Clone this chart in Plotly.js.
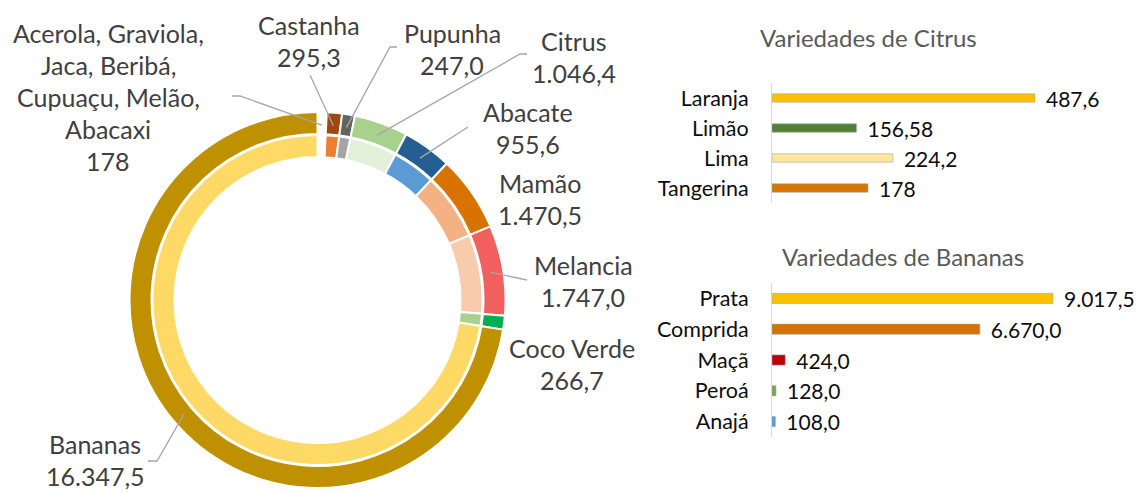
<!DOCTYPE html>
<html>
<head>
<meta charset="utf-8">
<script src="https://cdn.plot.ly/plotly-3.0.1.min.js"></script>
<style>html,body{margin:0;padding:0;background:#fff;}#chart{width:1140px;height:493px;}</style>
</head>
<body>
<div id="chart"></div>
<script>
// ---------- data ----------
const donutNames = ['Acerola, Graviola,<br>Jaca, Beribá,<br>Cupuaçu, Melão,<br>Abacaxi', 'Castanha', 'Pupunha', 'Citrus', 'Abacate', 'Mamão', 'Melancia', 'Coco Verde', 'Bananas'];
const donutValues = [178, 295.3, 247.0, 1046.4, 955.6, 1470.5, 1747.0, 266.7, 16347.5];
const donutDecimals = [0, 1, 1, 1, 1, 1, 1, 1, 1];
const outerColors = ['#FFFFFF', '#9E480E', '#636363', '#A9D18E', '#255E91', '#D87200', '#F25F5F', '#00B050', '#BF9000'];
const innerColors = ['#FFFFFF', '#ED7D31', '#A5A5A5', '#E2F0D9', '#5B9BD5', '#F4B183', '#F8CBAD', '#A9D18E', '#FFD966'];

const citrusNames = ['Laranja', 'Limão', 'Lima', 'Tangerina'];
const citrusValues = [487.6, 156.58, 224.2, 178];
const citrusDecimals = [1, 2, 1, 0];
const citrusColors = ['#FFC000', '#548235', '#FFE699', '#D77600'];

const bananaNames = ['Prata', 'Comprida', 'Maçã', 'Peroá', 'Anajá'];
const bananaValues = [9017.5, 6670.0, 424.0, 128.0, 108.0];
const bananaDecimals = [1, 1, 1, 1, 1];
const bananaColors = ['#FFC000', '#D77100', '#C00000', '#70AD47', '#5B9BD5'];

// ---------- helpers ----------
const W = 1140, H = 493;
const px = x => x / W;
const py = y => 1 - y / H;
function fmt(v, d) {
  return v.toLocaleString('pt-BR', {minimumFractionDigits: d, maximumFractionDigits: d});
}
const FONT = 'Lato, "Open Sans", sans-serif';

// donut geometry (pixels)
const cx = 317.5, cy = 300;
const rOuter = 188, rOuterIn = 166;
const rInner = 165, rInnerIn = 143;

const traces = [];
traces.push({
  type: 'pie', values: donutValues, labels: donutNames.map((n, i) => 'o' + i),
  sort: false, direction: 'clockwise', rotation: 0,
  hole: rOuterIn / rOuter, textinfo: 'none', hoverinfo: 'skip', showlegend: false,
  marker: {colors: outerColors, line: {color: '#FFFFFF', width: 2}},
  domain: {x: [px(cx - rOuter), px(cx + rOuter)], y: [py(cy + rOuter), py(cy - rOuter)]}
});
traces.push({
  type: 'pie', values: donutValues, labels: donutNames.map((n, i) => 'i' + i),
  sort: false, direction: 'clockwise', rotation: 0,
  hole: rInnerIn / rInner, textinfo: 'none', hoverinfo: 'skip', showlegend: false,
  marker: {colors: innerColors, line: {color: '#FFFFFF', width: 2}},
  domain: {x: [px(cx - rInner), px(cx + rInner)], y: [py(cy + rInner), py(cy - rInner)]}
});

const barText = (vals, dec) => vals.map((v, i) => '\u00A0\u2009' + fmt(v, dec[i]));
traces.push({
  type: 'bar', orientation: 'h', x: citrusValues, y: citrusNames,
  marker: {color: citrusColors, line: {color: 'rgba(150,165,185,0.55)', width: 1}},
  width: 0.28, text: barText(citrusValues, citrusDecimals), textposition: 'outside',
  constraintext: 'none', cliponaxis: false, hoverinfo: 'skip',
  textfont: {family: FONT, size: 21, color: '#0D0D0D'},
  xaxis: 'x', yaxis: 'y', showlegend: false
});
traces.push({
  type: 'bar', orientation: 'h', x: bananaValues, y: bananaNames,
  marker: {color: bananaColors, line: {color: 'rgba(150,165,185,0.55)', width: 1}},
  width: 0.33, text: barText(bananaValues, bananaDecimals), textposition: 'outside',
  constraintext: 'none', cliponaxis: false, hoverinfo: 'skip',
  textfont: {family: FONT, size: 21, color: '#0D0D0D'},
  xaxis: 'x2', yaxis: 'y2', showlegend: false
});

// ---------- labels & leader lines ----------
const labelPos = [ // [centre x, first line y]
  [108, 33], [309, 25], [452, 33], [574, 41], [528, 112], [540, 183], [583, 265], [572, 348], [95, 444]
];
const leaders = [
  [[232, 96], [240, 96]], [[310, 75]], [[397, 47], [390, 47]], [[527, 54], [520, 54]],
  [[468, 127]], null, [[527, 280]], null, [[148, 461], [157, 461]]
];
const LINE = 32;
const annotations = [];
const shapes = [];
const total = donutValues.reduce((a, b) => a + b, 0);
let cum = 0;
donutValues.forEach((v, i) => {
  const mid = (cum + v / 2) / total * 2 * Math.PI;
  cum += v;
  const rt = (rOuter + rOuterIn) / 2 - 2;
  const tip = [cx + rt * Math.sin(mid), cy - rt * Math.cos(mid)];
  const lines = donutNames[i].split('<br>').concat([fmt(v, donutDecimals[i])]);
  lines.forEach((t, k) => {
    annotations.push({
      xref: 'paper', yref: 'paper', x: px(labelPos[i][0]), y: py(labelPos[i][1] + k * LINE),
      xanchor: 'center', yanchor: 'middle', text: t, showarrow: false,
      font: {family: FONT, size: 25, color: '#404040'}
    });
  });
  if (leaders[i]) {
    const pts = leaders[i].concat([tip]);
    const path = pts.map((p, k) => (k ? 'L' : 'M') + px(p[0]).toFixed(5) + ',' + py(p[1]).toFixed(5)).join(' ');
    shapes.push({type: 'path', xref: 'paper', yref: 'paper', path: path, line: {color: '#A6A6A6', width: 1.3}});
  }
});

annotations.push({xref: 'paper', yref: 'paper', x: px(868), y: py(38), xanchor: 'center', yanchor: 'middle',
  text: 'Variedades de Citrus', showarrow: false, font: {family: FONT, size: 24, color: '#595959'}});
annotations.push({xref: 'paper', yref: 'paper', x: px(903), y: py(256), xanchor: 'center', yanchor: 'middle',
  text: 'Variedades de Bananas', showarrow: false, font: {family: FONT, size: 24, color: '#595959'}});

const barX0 = 772, barX1 = 1100;
const pxPerCitrus = 263 / 487.6, pxPerBanana = 281 / 9017.5;
const yAxisCommon = {
  showline: true, linecolor: '#D9D9D9', linewidth: 1, showgrid: false, zeroline: false,
  ticks: '', ticklabelstandoff: 18, fixedrange: true,
  tickfont: {family: FONT, size: 21.5, color: '#0D0D0D'}
};
const layout = {
  width: W, height: H, margin: {l: 0, r: 0, t: 0, b: 0},
  paper_bgcolor: '#FFFFFF', plot_bgcolor: 'rgba(0,0,0,0)',
  showlegend: false, font: {family: FONT},
  xaxis: {domain: [px(barX0), px(barX1)], range: [0, (barX1 - barX0) / pxPerCitrus], visible: false, fixedrange: true, anchor: 'y'},
  yaxis: Object.assign({}, yAxisCommon, {domain: [py(203), py(83)], anchor: 'x',
    categoryorder: 'array', categoryarray: citrusNames.slice(), autorange: 'reversed'}),
  xaxis2: {domain: [px(barX0), px(barX1)], range: [0, (barX1 - barX0) / pxPerBanana], visible: false, fixedrange: true, anchor: 'y2'},
  yaxis2: Object.assign({}, yAxisCommon, {domain: [py(437), py(283)], anchor: 'x2',
    categoryorder: 'array', categoryarray: bananaNames.slice(), autorange: 'reversed'}),
  annotations: annotations, shapes: shapes
};
Plotly.newPlot('chart', traces, layout, {displayModeBar: false, staticPlot: true});
</script>
</body>
</html>
